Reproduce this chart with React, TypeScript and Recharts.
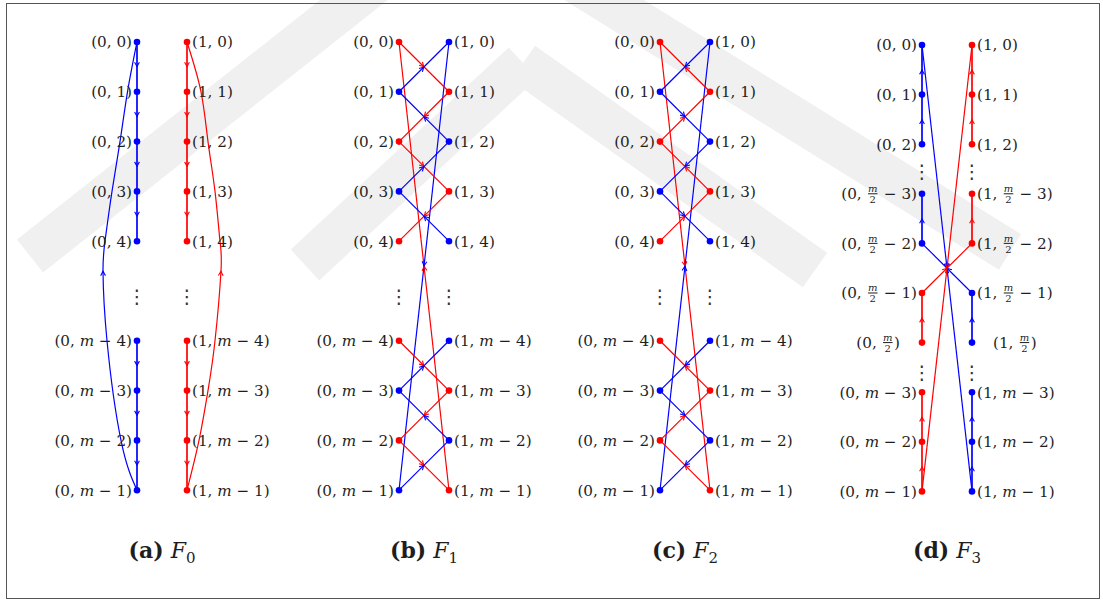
import React from 'react';
import { ComposedChart, Line, Scatter, XAxis, YAxis } from 'recharts';

const BLUE = '#0000ff';
const RED = '#ff0000';
const INK = '#1e1e1e';

// ---------------- data ----------------
const rowLabelsABC = ['0', '1', '2', '3', '4', '', 'm − 4', 'm − 3', 'm − 2', 'm − 1'];
const rowLabelsD = ['0', '1', '2', 'm/2 − 3', 'm/2 − 2', 'm/2 − 1', 'm/2', 'm − 3', 'm − 2', 'm − 1'];

// nodes: [column, row, colour]
const aNodes = [
  [0, 0, 'b'], [0, 1, 'b'], [0, 2, 'b'], [0, 3, 'b'], [0, 4, 'b'], [0, 6, 'b'], [0, 7, 'b'], [0, 8, 'b'], [0, 9, 'b'],
  [1, 0, 'r'], [1, 1, 'r'], [1, 2, 'r'], [1, 3, 'r'], [1, 4, 'r'], [1, 6, 'r'], [1, 7, 'r'], [1, 8, 'r'], [1, 9, 'r'],
];
const bNodes = [
  [0, 0, 'r'], [0, 1, 'b'], [0, 2, 'r'], [0, 3, 'b'], [0, 4, 'r'], [0, 6, 'r'], [0, 7, 'b'], [0, 8, 'r'], [0, 9, 'b'],
  [1, 0, 'b'], [1, 1, 'r'], [1, 2, 'b'], [1, 3, 'r'], [1, 4, 'b'], [1, 6, 'b'], [1, 7, 'r'], [1, 8, 'b'], [1, 9, 'r'],
];
const cNodes = [
  [0, 0, 'r'], [0, 1, 'b'], [0, 2, 'r'], [0, 3, 'b'], [0, 4, 'r'], [0, 6, 'r'], [0, 7, 'b'], [0, 8, 'r'], [0, 9, 'b'],
  [1, 0, 'b'], [1, 1, 'r'], [1, 2, 'b'], [1, 3, 'r'], [1, 4, 'b'], [1, 6, 'b'], [1, 7, 'r'], [1, 8, 'b'], [1, 9, 'r'],
];
const dNodes = [
  [0, 0, 'b'], [0, 1, 'b'], [0, 2, 'b'], [0, 3, 'b'], [0, 4, 'b'], [0, 5, 'r'], [0, 6, 'r'], [0, 7, 'r'], [0, 8, 'r'], [0, 9, 'r'],
  [1, 0, 'r'], [1, 1, 'r'], [1, 2, 'r'], [1, 3, 'r'], [1, 4, 'r'], [1, 5, 'b'], [1, 6, 'b'], [1, 7, 'b'], [1, 8, 'b'], [1, 9, 'b'],
];

// directed edges: [fromColumn, fromRow, toColumn, toRow, colour]
const aEdges = [
  [0, 0, 0, 1, 'b'], [0, 1, 0, 2, 'b'], [0, 2, 0, 3, 'b'], [0, 3, 0, 4, 'b'], [0, 6, 0, 7, 'b'], [0, 7, 0, 8, 'b'], [0, 8, 0, 9, 'b'],
  [1, 0, 1, 1, 'r'], [1, 1, 1, 2, 'r'], [1, 2, 1, 3, 'r'], [1, 3, 1, 4, 'r'], [1, 6, 1, 7, 'r'], [1, 7, 1, 8, 'r'], [1, 8, 1, 9, 'r'],
];
const bEdges = [
  [1, 9, 0, 0, 'r'], [1, 0, 0, 9, 'b'],
  [0, 0, 1, 1, 'r'], [1, 1, 0, 2, 'r'], [0, 2, 1, 3, 'r'], [1, 3, 0, 4, 'r'], [0, 6, 1, 7, 'r'], [1, 7, 0, 8, 'r'], [0, 8, 1, 9, 'r'],
  [1, 4, 0, 3, 'b'], [0, 3, 1, 2, 'b'], [1, 2, 0, 1, 'b'], [0, 1, 1, 0, 'b'], [0, 9, 1, 8, 'b'], [1, 8, 0, 7, 'b'], [0, 7, 1, 6, 'b'],
];
const cEdges = [
  [0, 0, 1, 9, 'r'], [0, 9, 1, 0, 'b'],
  [1, 1, 0, 0, 'r'], [0, 2, 1, 1, 'r'], [1, 3, 0, 2, 'r'], [0, 4, 1, 3, 'r'], [1, 7, 0, 6, 'r'], [0, 8, 1, 7, 'r'], [1, 9, 0, 8, 'r'],
  [1, 0, 0, 1, 'b'], [0, 1, 1, 2, 'b'], [1, 2, 0, 3, 'b'], [0, 3, 1, 4, 'b'], [1, 6, 0, 7, 'b'], [0, 7, 1, 8, 'b'], [1, 8, 0, 9, 'b'],
];
const dEdges = [
  [0, 0, 1, 9, 'b'], [1, 0, 0, 9, 'r'],
  [0, 1, 0, 0, 'b'], [0, 2, 0, 1, 'b'], [0, 4, 0, 3, 'b'], [1, 9, 1, 8, 'b'], [1, 8, 1, 7, 'b'], [1, 6, 1, 5, 'b'], [1, 5, 0, 4, 'b'],
  [0, 9, 0, 8, 'r'], [0, 8, 0, 7, 'r'], [0, 6, 0, 5, 'r'], [1, 1, 1, 0, 'r'], [1, 2, 1, 1, 'r'], [1, 4, 1, 3, 'r'], [0, 5, 1, 4, 'r'],
];

// curved return edges of panel (a): [column, row]
const aBlueCurve = [[0, 9], [-0.32, 8], [-0.6, 6], [-0.68, 4.6], [-0.64, 4], [-0.5, 3], [-0.34, 2], [-0.19, 1], [0, 0]];
const aRedCurve = [[1, 9], [1.24, 8], [1.42, 7], [1.56, 6], [1.68, 4.6], [1.66, 4], [1.56, 3], [1.42, 2], [1.28, 1], [1, 0]];

// vertical ellipses: [column, row]
const abcDots = [[0, 5.1], [1, 5.1]];
const dDots = [[0, 2.55], [1, 2.55], [0, 6.6], [1, 6.6]];

// ---------------- layout / style ----------------
const W = 262;
const H = 601;
const X_DOMAIN = [-2.12, 3.12];
const Y_ABC = [-0.843, 11.225];
const Y_D = [-0.907, 11.21];
const LABEL_GAP: Record<string, number> = { '(0, m/2)': 22, '(1, m/2)': 21 };
const LABEL_FONT = '"DejaVu Serif", serif';
const LABEL_SIZE = 15.2;
const FR = 10;

// faint background watermark (decoration): chevron arms as [x1, y1, x2, y2] centre lines
const WATERMARK_ARMS = [
  [464, -87, 30, 256],
  [464, -87, 1010, 252],
  [523, 63, 305, 265],
  [523, 63, 815, 270],
];
const WATERMARK_THICKNESS = 42;

const col = (c: string) => (c === 'b' ? BLUE : RED);

function bandPolygon(a: number[]) {
  const [x1, y1, x2, y2] = a;
  const len = Math.hypot(x2 - x1, y2 - y1) || 1;
  const nx = (-(y2 - y1) / len) * (WATERMARK_THICKNESS / 2);
  const ny = ((x2 - x1) / len) * (WATERMARK_THICKNESS / 2);
  return `${x1 + nx},${y1 + ny} ${x2 + nx},${y2 + ny} ${x2 - nx},${y2 - ny} ${x1 - nx},${y1 - ny}`;
}

function arrowPath(tx: number, ty: number, dx: number, dy: number) {
  const len = Math.hypot(dx, dy) || 1;
  const ux = dx / len;
  const uy = dy / len;
  const nx = -uy;
  const ny = ux;
  const L = 4.6;
  const w = 2.4;
  const bx = tx - ux * L;
  const by = ty - uy * L;
  const cx = tx - ux * L * 0.45;
  const cy = ty - uy * L * 0.45;
  return `M${bx + nx * w},${by + ny * w} Q${cx + nx * w * 0.35},${cy + ny * w * 0.35} ${tx},${ty} Q${cx - nx * w * 0.35},${cy - ny * w * 0.35} ${bx - nx * w},${by - ny * w}`;
}

function makeArrowDot(color: string, at: number, t: number) {
  return (props: any) => {
    const { index, points } = props;
    const key = `dot-${index}`;
    if (index !== at || !points || points.length < 2) return <g key={key} />;
    let tx: number, ty: number, dx: number, dy: number;
    if (at === 0) {
      const p0 = points[0];
      const p1 = points[1];
      tx = p0.x + (p1.x - p0.x) * t;
      ty = p0.y + (p1.y - p0.y) * t;
      dx = p1.x - p0.x;
      dy = p1.y - p0.y;
    } else {
      const pm = points[at];
      tx = pm.x;
      ty = pm.y;
      dx = points[at + 1].x - points[at - 1].x;
      dy = points[at + 1].y - points[at - 1].y;
    }
    return (
      <path key={key} d={arrowPath(tx, ty, dx, dy)} fill="none" stroke={color} strokeWidth={1.1} strokeLinejoin="round" />
    );
  };
}

function MathLabel({ x, y, anchor, text }: { x: number; y: number; anchor: 'start' | 'end'; text: string }) {
  const parts = text.split(/(m\/2|m)/);
  const spans: React.ReactNode[] = [];
  let pendDx = 0;
  let pendDy = 0;
  const MW = FR * 0.95;
  const TW = FR * 0.636;
  parts.forEach((p, i) => {
    if (p === '') return;
    if (p === 'm') {
      spans.push(
        <tspan key={i} fontStyle="italic" dx={pendDx || undefined} dy={pendDy || undefined}>m</tspan>,
      );
      pendDx = 0;
      pendDy = 0;
    } else if (p === 'm/2') {
      spans.push(
        <tspan key={i + 'n'} fontStyle="italic" fontSize={FR} dx={1.5 + pendDx} dy={-7 + pendDy} style={{ textDecoration: 'underline' }}>m</tspan>,
      );
      spans.push(
        <tspan key={i + 'd'} fontSize={FR} dx={-(MW + TW) / 2} dy={11}>2</tspan>,
      );
      pendDx = (MW - TW) / 2 + 1.5;
      pendDy = -4;
    } else {
      spans.push(
        <tspan key={i} dx={pendDx || undefined} dy={pendDy || undefined}>{p}</tspan>,
      );
      pendDx = 0;
      pendDy = 0;
    }
  });
  return (
    <text x={x} y={y} textAnchor={anchor} fontFamily={LABEL_FONT} fontSize={LABEL_SIZE} fill={INK} style={{ whiteSpace: 'pre' }}>
      {spans}
    </text>
  );
}

function NodeShape(props: any) {
  const { cx, cy, payload } = props;
  if (cx == null || cy == null || !payload) return <g />;
  const left = payload.c === 0;
  const gap = LABEL_GAP[payload.label] ?? 5;
  return (
    <g>
      <circle cx={cx} cy={cy} r={3.3} fill={col(payload.color)} />
      <MathLabel x={left ? cx - gap : cx + gap} y={cy + 5.5} anchor={left ? 'end' : 'start'} text={payload.label} />
    </g>
  );
}

function VDotShape(props: any) {
  const { cx, cy } = props;
  if (cx == null || cy == null) return <g />;
  return (
    <text x={cx} y={cy + 7} textAnchor="middle" fontFamily='"DejaVu Sans", sans-serif' fontSize={19} fill="#333">⋮</text>
  );
}

type PanelProps = {
  left: number;
  nodes: any[];
  edges: any[];
  curves: { pts: number[][]; color: string; at: number }[];
  dots: number[][];
  rowLabels: string[];
  yDomain: number[];
  letter: string;
  index: string;
};

function Panel({ left, nodes, edges, curves, dots, rowLabels, yDomain, letter, index }: PanelProps) {
  const nodeData = nodes.map((n) => ({ c: n[0], k: n[1], color: n[2], label: `(${n[0]}, ${rowLabels[n[1]]})` }));
  const dotData = dots.map((d) => ({ c: d[0], k: d[1] }));
  return (
    <div style={{ position: 'absolute', left, top: 0, width: W, height: H }}>
      <ComposedChart width={W} height={H} margin={{ top: 0, right: 0, bottom: 0, left: 0 }}>
        <XAxis type="number" dataKey="c" domain={X_DOMAIN as any} hide allowDataOverflow />
        <YAxis type="number" dataKey="k" domain={yDomain as any} reversed hide allowDataOverflow />
        {curves.map((cv, i) => (
          <Line
            key={'cv' + i}
            data={cv.pts.map((p) => ({ c: p[0], k: p[1] }))}
            dataKey="k"
            type="natural"
            stroke={col(cv.color)}
            strokeWidth={1.2}
            dot={makeArrowDot(col(cv.color), cv.at, 0.5)}
            activeDot={false}
            isAnimationActive={false}
          />
        ))}
        {edges.map((e, i) => (
          <Line
            key={'e' + i}
            data={[{ c: e[0], k: e[1] }, { c: e[2], k: e[3] }]}
            dataKey="k"
            type="linear"
            stroke={col(e[4])}
            strokeWidth={e[0] === e[2] ? 1.7 : 1.2}
            dot={makeArrowDot(col(e[4]), 0, 0.5)}
            activeDot={false}
            isAnimationActive={false}
          />
        ))}
        <Scatter data={dotData} shape={VDotShape} isAnimationActive={false} />
        <Scatter data={nodeData} shape={NodeShape} isAnimationActive={false} />
      </ComposedChart>
      <div
        style={{
          position: 'absolute',
          left: 0,
          top: 539,
          width: W,
          textAlign: 'center',
          fontFamily: LABEL_FONT,
          fontSize: 22,
          lineHeight: '22px',
          color: INK,
          whiteSpace: 'nowrap',
        }}
      >
        <b>({letter})</b> <i>F</i>
        <span style={{ fontSize: 15, position: 'relative', top: 5 }}>{index}</span>
      </div>
    </div>
  );
}

export default function App() {
  return (
    <div style={{ position: 'absolute', left: 0, top: 0, width: 1103, height: 601, background: '#fff', overflow: 'hidden' }}>
      <svg width={1103} height={601} style={{ position: 'absolute', left: 0, top: 0 }}>
        {WATERMARK_ARMS.map((a, i) => (
          <polygon key={i} points={bandPolygon(a)} fill="#f0f0f0" />
        ))}
      </svg>
      <div
        style={{
          position: 'absolute',
          left: 6,
          top: 3,
          width: 1094,
          height: 596,
          boxSizing: 'border-box',
          border: '1.5px solid #555',
        }}
      />
      <Panel left={31} nodes={aNodes} edges={aEdges} curves={[{ pts: aBlueCurve, color: 'b', at: 3 }, { pts: aRedCurve, color: 'r', at: 4 }]} dots={abcDots} rowLabels={rowLabelsABC} yDomain={Y_ABC} letter="a" index="0" />
      <Panel left={293} nodes={bNodes} edges={bEdges} curves={[]} dots={abcDots} rowLabels={rowLabelsABC} yDomain={Y_ABC} letter="b" index="1" />
      <Panel left={554} nodes={cNodes} edges={cEdges} curves={[]} dots={abcDots} rowLabels={rowLabelsABC} yDomain={Y_ABC} letter="c" index="2" />
      <Panel left={816} nodes={dNodes} edges={dEdges} curves={[]} dots={dDots} rowLabels={rowLabelsD} yDomain={Y_D} letter="d" index="3" />
    </div>
  );
}
